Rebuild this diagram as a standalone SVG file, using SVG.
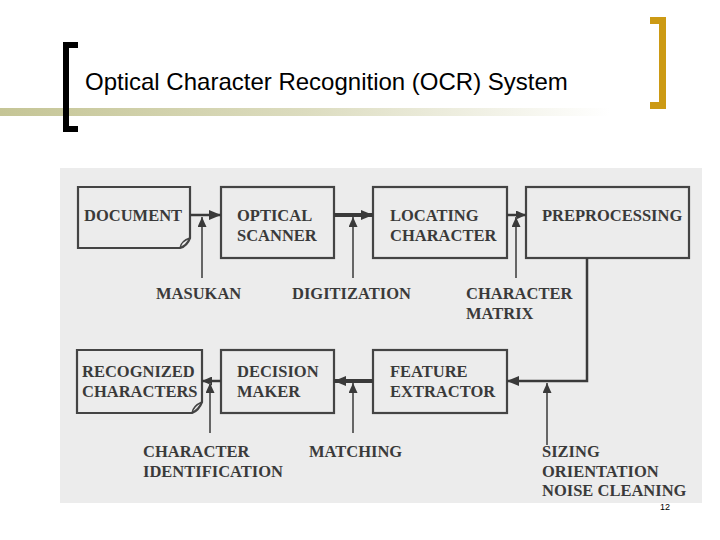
<svg xmlns="http://www.w3.org/2000/svg" width="720" height="540" viewBox="0 0 720 540">
  <defs>
    <linearGradient id="bar" x1="0" y1="0" x2="1" y2="0">
      <stop offset="0" stop-color="#c5c596"/>
      <stop offset="0.5" stop-color="#dcdcbf"/>
      <stop offset="1" stop-color="#ffffff"/>
    </linearGradient>
    <marker id="ah" viewBox="0 0 12 10" refX="12" refY="5" markerWidth="12" markerHeight="10" markerUnits="userSpaceOnUse" orient="auto">
      <path d="M0,0 L12,5 L0,10 Z" fill="#3a3a3a"/>
    </marker>
    <marker id="ahs" viewBox="0 0 10 9" refX="10" refY="4.5" markerWidth="10" markerHeight="9" markerUnits="userSpaceOnUse" orient="auto">
      <path d="M0,0 L10,4.5 L0,9 Z" fill="#3a3a3a"/>
    </marker>
  </defs>
  <style>
    .box { fill: none; stroke: #444; stroke-width: 2.2; }
    .lbl { font-family: "Liberation Serif", "Times New Roman", serif; font-weight: bold; font-size: 16.5px; fill: #3a3a3a; }
    .flow { stroke: #3a3a3a; stroke-width: 2.5; fill: none; }
    .thick { stroke-width: 4; }
    .inp { stroke: #666; stroke-width: 2; fill: none; }
  </style>
  <rect width="720" height="540" fill="#ffffff"/>

  <!-- title -->
  <g id="title">
    <rect x="0" y="108" width="610" height="8" fill="url(#bar)"/>
    <path d="M78,42 H63 V132 H78 V126 H69 V48 H78 Z" fill="#000"/>
    <path d="M650,17 H666 V109 H650 V102 H659 V24 H650 Z" fill="#cc9a14"/>
    <text x="85" y="90" font-family="Liberation Sans, Arial, sans-serif" font-size="24" fill="#000">Optical Character Recognition (OCR) System</text>
  </g>

  <!-- diagram background -->
  <rect x="60" y="168" width="642" height="335" fill="#ececec"/>

  <!-- nodes -->
  <g id="document">
    <path class="box" d="M78,187 H190 V238 Q187,246 180,248 H78 Z"/>
    <path d="M180,248 Q181,241 190,238" fill="none" stroke="#444" stroke-width="1.5"/>
    <text class="lbl" x="84" y="221">DOCUMENT</text>
  </g>
  <g id="optical-scanner">
    <rect class="box" x="221" y="187" width="113" height="71"/>
    <text class="lbl" x="237" y="221">OPTICAL</text>
    <text class="lbl" x="237" y="241">SCANNER</text>
  </g>
  <g id="locating-character">
    <rect class="box" x="373" y="187" width="134" height="71"/>
    <text class="lbl" x="390" y="221">LOCATING</text>
    <text class="lbl" x="390" y="241">CHARACTER</text>
  </g>
  <g id="preprocessing">
    <rect class="box" x="526" y="187" width="163" height="71"/>
    <text class="lbl" x="542" y="221">PREPROCESSING</text>
  </g>
  <g id="recognized-characters">
    <path class="box" d="M77,350 H202 V402 Q199,410 192,413 H77 Z"/>
    <path d="M192,413 Q193,406 202,402" fill="none" stroke="#444" stroke-width="1.5"/>
    <text class="lbl" x="82" y="377">RECOGNIZED</text>
    <text class="lbl" x="82" y="397">CHARACTERS</text>
  </g>
  <g id="decision-maker">
    <rect class="box" x="221" y="350" width="113" height="63"/>
    <text class="lbl" x="237" y="377">DECISION</text>
    <text class="lbl" x="237" y="397">MAKER</text>
  </g>
  <g id="feature-extractor">
    <rect class="box" x="373" y="350" width="134" height="63"/>
    <text class="lbl" x="390" y="377">FEATURE</text>
    <text class="lbl" x="390" y="397">EXTRACTOR</text>
  </g>

  <!-- input labels -->
  <g id="labels">
    <text class="lbl" x="156" y="299">MASUKAN</text>
    <text class="lbl" x="292" y="299">DIGITIZATION</text>
    <text class="lbl" x="466" y="299">CHARACTER</text>
    <text class="lbl" x="466" y="319">MATRIX</text>
    <text class="lbl" x="143" y="457">CHARACTER</text>
    <text class="lbl" x="143" y="477">IDENTIFICATION</text>
    <text class="lbl" x="309" y="457">MATCHING</text>
    <text class="lbl" x="542" y="457">SIZING</text>
    <text class="lbl" x="542" y="477">ORIENTATION</text>
    <text class="lbl" x="542" y="496">NOISE CLEANING</text>
  </g>

  <!-- connectors -->
  <g id="connectors">
    <line class="flow" x1="190" y1="215" x2="221" y2="215" marker-end="url(#ah)"/>
    <line class="flow thick" x1="334" y1="215" x2="373" y2="215" marker-end="url(#ah)"/>
    <line class="flow" x1="507" y1="215" x2="526" y2="215" marker-end="url(#ahs)"/>
    <polyline class="flow" points="587,258 587,381 507,381" marker-end="url(#ah)"/>
    <line class="flow thick" x1="373" y1="381" x2="334" y2="381" marker-end="url(#ah)"/>
    <line class="flow" x1="221" y1="381" x2="202" y2="381" marker-end="url(#ahs)"/>

    <line class="inp" x1="202" y1="278" x2="202" y2="217" marker-end="url(#ahs)"/>
    <line class="inp" x1="353" y1="278" x2="353" y2="217" marker-end="url(#ahs)"/>
    <line class="inp" x1="516" y1="278" x2="516" y2="217" marker-end="url(#ahs)"/>
    <line class="inp" x1="210" y1="433" x2="210" y2="383" marker-end="url(#ahs)"/>
    <line class="inp" x1="353" y1="433" x2="353" y2="383" marker-end="url(#ahs)"/>
    <line class="inp" x1="547" y1="445" x2="547" y2="383" marker-end="url(#ahs)"/>
  </g>

  <text x="660" y="510" font-family="Liberation Sans, Arial, sans-serif" font-size="9" fill="#000">12</text>
</svg>
